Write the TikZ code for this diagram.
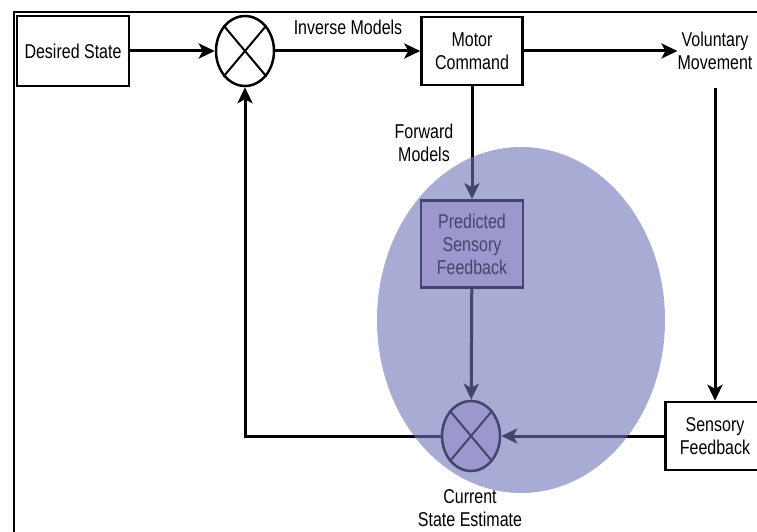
\documentclass[tikz,border=0pt]{standalone}
\usepackage{fontspec}
\setmainfont{Liberation Sans}[FakeStretch=0.8]
\usepackage{tikz}
\usetikzlibrary{positioning,shapes.geometric,arrows.meta}
\definecolor{haze}{RGB}{110,115,182}
\definecolor{predfill}{RGB}{225,205,237}
\tikzset{box node/.style={rectangle,draw,line width=2.5pt,fill=white,align=center,inner sep=0pt},
         sum node/.style={ellipse,draw,line width=2.5pt,fill=white,minimum width=58pt,minimum height=70pt,inner sep=0pt},
         lbl/.style={align=center,inner sep=0pt},}
\tikzstyle{flow} = [line width=3pt,-{Stealth[length=16pt,width=15pt,inset=4pt]}]

\begin{document}
\begin{tikzpicture}[x=1pt,y=-1pt,font=\fontsize{20}{23}\selectfont]
                    \useasboundingbox (0,0) rectangle (757,532);
                    \draw[line width=2.5pt] (757,12) -- (14,12) -- (14,532);
                    \node[box node,minimum width=112pt,minimum height=70pt] (1) at (73,51) {Desired State};
                    \node[sum node] (2) at (245,51) {};
                    \node[box node,minimum width=101pt,minimum height=68pt] (3) at (472,51) {Motor\\Command};
                    \node[lbl] (4) at (715,51) {Voluntary\\Movement};
                    \node[box node,minimum width=102pt,minimum height=87pt,fill=predfill] (5) at (472,244) {Predicted\\Sensory\\Feedback};
                    \node[sum node,fill=predfill] (6) at (471,436) {};
                    \node[box node,minimum width=120pt,minimum height=68pt,anchor=west] (7) at (664,436) {};
                    \node[lbl] (8) at (715,436) {Sensory\\Feedback};
                    \node[lbl] (9) at (470,508) {Current\\State Estimate};
                    \node[lbl] (10) at (348,27) {Inverse Models};
                    \node[lbl] (11) at (424,143) {Forward\\Models};
                    \coordinate (12) at (715,88);
                    \foreach \n in {2,6}
                        \draw[line width=2pt] (\n.50) -- (\n.230) (\n.130) -- (\n.310);
                    \draw[flow] (1) -- (2);
                    \draw[flow] (2) -- (3);
                    \draw[flow] (3) -- (4);
                    \draw[flow] (3) -- (5);
                    \draw[flow] (5) -- (6);
                    \draw[flow] (12) -- (12 |- 7.north);
                    \draw[flow] (7.west) -- (6);
                    \draw[flow] (6.west) -| (2.south);
                    \fill[haze,fill opacity=0.6] (521,320) ellipse [x radius=144,y radius=173];
                \end{tikzpicture}
\end{document}
